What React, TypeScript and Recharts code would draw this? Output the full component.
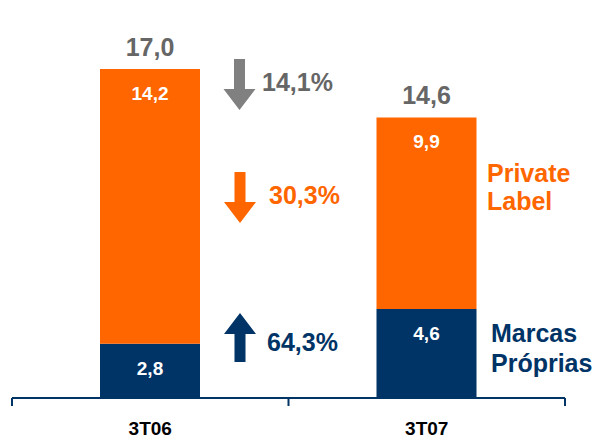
import { BarChart, Bar, XAxis, YAxis, LabelList } from "recharts";

const categories = ["3T06", "3T07"];
// each category owns one unit of the 0..2 axis; bars sit in the middle of it
const barSlots = [0.5, 1.5];
const marcasProprias = [2.8, 4.6];
const privateLabel = [14.2, 9.9];
const totals = [17.0, 14.6];
const changes = ["14,1%", "30,3%", "64,3%"];
const axisTicks = [0, 0.5, 1, 1.5, 2];

const ORANGE = "#FF6600";
const NAVY = "#003366";
const GRAY = "#666666";
const ARROW_GRAY = "#808080";
const FONT = "'Liberation Sans', Arial, sans-serif";

const data = categories.map((cat, i) => ({
  cat,
  x: barSlots[i],
  marcas: marcasProprias[i],
  pl: privateLabel[i],
  total: totals[i],
}));

const fmt = (v: any) => Number(v).toFixed(1).replace(".", ",");
const bold = { fontFamily: FONT, fontWeight: 700 };

function AxisTick(props: any) {
  const { x, y, payload } = props;
  const v = payload.value;
  if (Number.isInteger(v)) {
    return <line x1={x} x2={x} y1={y} y2={y + 8} stroke={NAVY} strokeWidth={2} />;
  }
  return (
    <text x={x} y={y + 37} textAnchor="middle" fill="#000" style={{ ...bold, fontSize: 19 }}>
      {categories[Math.floor(v)]}
    </text>
  );
}

// value printed inside the top of a segment
const insideLabel = (props: any) => {
  const { x, y, width, value } = props;
  return (
    <text x={x + width / 2} y={y + 31} textAnchor="middle" fill="#fff" style={{ ...bold, fontSize: 19 }}>
      {fmt(value)}
    </text>
  );
};

// stack total printed above the bar
const totalLabel = (props: any) => {
  const { x, y, width, index } = props;
  return (
    <text x={x + width / 2} y={y - 13} textAnchor="middle" fill={GRAY} style={{ ...bold, fontSize: 25 }}>
      {fmt(totals[index])}
    </text>
  );
};

function Arrow({ cx, top, bottom, head, up, color }: any) {
  const s = 5.5;
  const h = 16;
  const pts = up
    ? [[cx, top], [cx + h, top + head], [cx + s, top + head], [cx + s, bottom], [cx - s, bottom], [cx - s, top + head], [cx - h, top + head]]
    : [[cx - s, top], [cx + s, top], [cx + s, bottom - head], [cx + h, bottom - head], [cx, bottom], [cx - h, bottom - head], [cx - s, bottom - head]];
  return <polygon points={pts.map((p) => p.join(",")).join(" ")} fill={color} />;
}

export default function App() {
  const txt = { style: { ...bold, fontSize: 25 } };
  return (
    <div style={{ position: "absolute", left: 0, top: 0, width: 597, height: 442, background: "#fff" }}>
      <BarChart width={597} height={442} data={data} margin={{ top: 11, right: 32, bottom: 4, left: 12 }}>
        <XAxis
          type="number"
          dataKey="x"
          domain={[0, 2]}
          ticks={axisTicks}
          interval={0}
          tick={<AxisTick />}
          tickLine={false}
          tickSize={0}
          tickMargin={0}
          height={40}
          axisLine={{ stroke: NAVY, strokeWidth: 2 }}
        />
        <YAxis hide domain={[0, 20]} />
        <Bar dataKey="marcas" stackId="a" fill={NAVY} barSize={100} isAnimationActive={false}>
          <LabelList dataKey="marcas" content={insideLabel} />
        </Bar>
        <Bar dataKey="pl" stackId="a" fill={ORANGE} barSize={100} isAnimationActive={false}>
          <LabelList dataKey="pl" content={insideLabel} />
          <LabelList dataKey="total" content={totalLabel} />
        </Bar>
      </BarChart>
      <svg width={597} height={442} style={{ position: "absolute", left: 0, top: 0, pointerEvents: "none" }}>
        <Arrow cx={239.5} top={59} bottom={110} head={21} color={ARROW_GRAY} />
        <text x={262} y={91} fill={GRAY} {...txt}>{changes[0]}</text>
        <Arrow cx={240} top={172} bottom={223} head={21} color={ORANGE} />
        <text x={269} y={204} fill={ORANGE} {...txt}>{changes[1]}</text>
        <Arrow cx={240} top={313} bottom={362} head={21} up color={NAVY} />
        <text x={267} y={351} fill={NAVY} {...txt}>{changes[2]}</text>
        <text x={487} y={182} fill={ORANGE} {...txt}>Private</text>
        <text x={487} y={210} fill={ORANGE} {...txt}>Label</text>
        <text x={491} y={342} fill={NAVY} {...txt}>Marcas</text>
        <text x={491} y={372} fill={NAVY} {...txt}>Próprias</text>
      </svg>
    </div>
  );
}
